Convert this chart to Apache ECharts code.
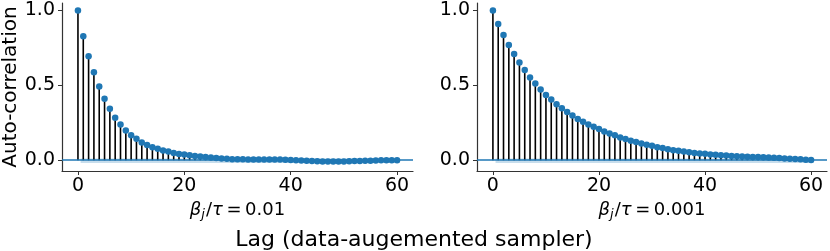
<!DOCTYPE html>
<html>
<head>
<meta charset="utf-8">
<script src="https://cdn.jsdelivr.net/npm/echarts@6/dist/echarts.min.js"></script>
<style>
html,body{margin:0;padding:0;background:#fff;}
#chart{width:830px;height:251px;}
</style>
</head>
<body>
<div id="chart"></div>
<script>
// ---- data ----
const lags = Array.from({length: 61}, (_, i) => i);
const acfLeft = [
  1.000, 0.828, 0.695, 0.588, 0.492, 0.410, 0.343, 0.283, 0.238, 0.198,
  0.167, 0.143, 0.118, 0.102, 0.087, 0.076, 0.065, 0.058, 0.049, 0.042,
  0.038, 0.033, 0.029, 0.025, 0.021, 0.018, 0.015, 0.012, 0.009, 0.007,
  0.006, 0.006, 0.005, 0.005, 0.005, 0.005, 0.004, 0.004, 0.004, 0.003,
  0.002, 0.000, -0.002, -0.004, -0.005, -0.007, -0.008, -0.008, -0.009, -0.008,
  -0.008, -0.007, -0.006, -0.005, -0.004, -0.003, -0.002, -0.001, -0.001, 0.000,
  0.000
];
const acfRight = [
  1.000, 0.910, 0.837, 0.770, 0.709, 0.653, 0.602, 0.553, 0.512, 0.472,
  0.436, 0.405, 0.374, 0.347, 0.322, 0.298, 0.275, 0.257, 0.239, 0.224,
  0.208, 0.192, 0.179, 0.166, 0.152, 0.141, 0.130, 0.121, 0.112, 0.103,
  0.096, 0.087, 0.081, 0.074, 0.067, 0.063, 0.058, 0.054, 0.049, 0.045,
  0.043, 0.038, 0.036, 0.034, 0.031, 0.029, 0.027, 0.025, 0.024, 0.022,
  0.021, 0.020, 0.018, 0.016, 0.014, 0.012, 0.010, 0.008, 0.006, 0.003,
  0.002
];
const xTicks = [0, 20, 40, 60];
const yTicks = [0, 0.5, 1.0];
const confBand = [-0.018, 0.012];
const panelNames = ['0.01', '0.001'];
const yLabel = 'Auto-correlation';
const xLabel = 'Lag (data-augemented sampler)';

// ---- styles ----
const FONT = 'DejaVu Sans';
const BLUE = '#1f77b4';
const SPINE = '#333';

const chart = echarts.init(document.getElementById('chart'), null, {renderer: 'canvas'});

const grids = [
  {left: 62, top: 3, width: 351, height: 168},
  {left: 477, top: 3, width: 350, height: 168}
];

function xAxisFor(i) {
  return {
    type: 'value', gridIndex: i, min: -3, max: 63,
    axisLine: {show: true, onZero: false, lineStyle: {color: SPINE, width: 1.2}},
    axisTick: {show: true, length: 4, inside: false, customValues: xTicks, lineStyle: {color: SPINE, width: 1}},
    axisLabel: {show: true, customValues: xTicks, margin: 6, color: '#000', fontFamily: FONT, fontSize: 19},
    splitLine: {show: false},
    name: '{i|β}{s|j}{n|/}{i|τ}{n|\u2009=\u2009' + panelNames[i] + '}',
    nameLocation: 'middle', nameGap: 23,
    nameTextStyle: {
      color: '#000', fontFamily: FONT, fontSize: 18,
      rich: {
        i: {fontStyle: 'italic', fontSize: 18, fontFamily: FONT, color: '#000'},
        s: {fontStyle: 'italic', fontSize: 13, fontFamily: FONT, color: '#000', verticalAlign: 'bottom', padding: [9, 1, 0, 0]},
        n: {fontSize: 18, fontFamily: FONT, color: '#000'}
      }
    }
  };
}
function yAxisFor(i) {
  return {
    type: 'value', gridIndex: i, min: -0.072, max: 1.05,
    axisLine: {show: true, onZero: false, lineStyle: {color: SPINE, width: 1.2}},
    axisTick: {show: true, length: 4, inside: false, customValues: yTicks, lineStyle: {color: SPINE, width: 1}},
    axisLabel: {show: true, customValues: yTicks, margin: 7, color: '#000', fontFamily: FONT, fontSize: 19,
      formatter: v => Number(v).toFixed(1)},
    splitLine: {show: false}
  };
}

const datasets = [acfLeft, acfRight];
const series = [];
datasets.forEach((arr, i) => {
  const pts = lags.map((l, k) => [l, arr[k]]);
  series.push({
    type: 'bar', xAxisIndex: i, yAxisIndex: i, data: pts, barWidth: 1.6,
    itemStyle: {color: '#000'}, silent: true, z: 2,
    markArea: {
      silent: true,
      itemStyle: {color: 'rgba(31,119,180,0.25)'},
      data: [[{xAxis: 0.5, yAxis: confBand[0]}, {xAxis: 60.5, yAxis: confBand[1]}]]
    }
  });
  series.push({
    type: 'scatter', xAxisIndex: i, yAxisIndex: i, data: pts, symbol: 'circle', symbolSize: 6.5,
    itemStyle: {color: BLUE, opacity: 1}, silent: true, z: 4,
    markLine: {
      silent: true, symbol: ['none', 'none'], label: {show: false},
      lineStyle: {color: BLUE, width: 1.5, type: 'solid'},
      data: [{yAxis: 0}], z: 3
    }
  });
});

chart.setOption({
  animation: false,
  backgroundColor: '#fff',
  grid: grids,
  xAxis: [xAxisFor(0), xAxisFor(1)],
  yAxis: [yAxisFor(0), yAxisFor(1)],
  series: series,
  graphic: [
    {type: 'text', x: 11, y: 87, rotation: Math.PI / 2,
      style: {text: yLabel, fontFamily: FONT, fontSize: 20, fill: '#000', align: 'center', verticalAlign: 'middle'}},
    {type: 'text', x: 414, y: 240,
      style: {text: xLabel, fontFamily: FONT, fontSize: 22, fill: '#000', align: 'center', verticalAlign: 'middle'}}
  ]
});
</script>
</body>
</html>
